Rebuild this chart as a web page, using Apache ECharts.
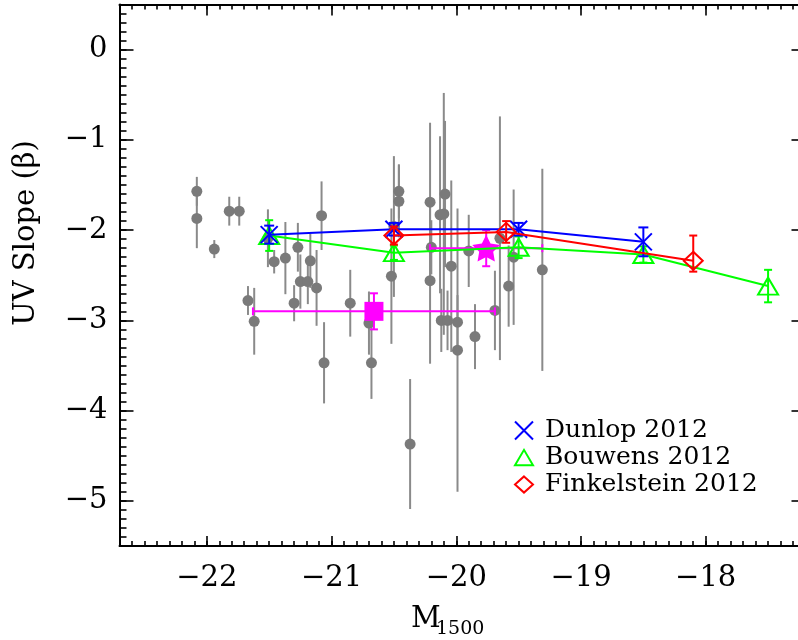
<!DOCTYPE html>
<html><head><meta charset="utf-8">
<script src="https://cdn.jsdelivr.net/npm/echarts@6/dist/echarts.min.js"></script>
<style>html,body{margin:0;padding:0;background:#fff;overflow:hidden}#c{width:810px;height:640px}</style>
</head><body><div id="c"></div>
<script>
// ---- tick labels ----
const xTicks = [-22, -21, -20, -19, -18];
const yTicks = [-5, -4, -3, -2, -1, 0];

// ---- individual galaxies (grey) ----
const greyM = [-22.08,-22.08,-21.94,-21.82,-21.74,-21.51,-21.46,-21.37,-21.27,-21.25,-21.19,-21.17,-21.12,-21.08,-21.67,-21.62,-21.30,-21.06,-20.85,-20.70,-20.68,-20.52,-20.50,-20.46,-20.46,-20.21,-20.21,-20.20,-20.13,-20.10,-20.09,-20.04,-20.12,-20.07,-19.99,-19.99,-19.90,-19.85,-20.37,-19.69,-19.58,-19.65,-19.54,-19.31];
const greyB = [-1.57,-1.87,-2.21,-1.79,-1.79,-2.09,-2.35,-2.31,-2.19,-2.57,-2.57,-2.34,-2.64,-1.84,-2.78,-3.01,-2.81,-3.47,-2.81,-3.03,-3.47,-2.51,-1.96,-1.57,-1.68,-1.69,-2.56,-2.19,-1.83,-1.82,-1.60,-2.40,-3.00,-3.00,-3.02,-3.33,-2.23,-3.18,-4.37,-2.89,-2.62,-2.09,-2.30,-2.44];
const greyErr = [0.16,0.33,0.10,0.16,0.16,0.32,0.13,0.40,0.27,0.30,0.25,0.30,0.42,0.38,0.16,0.37,0.20,0.45,0.37,0.35,0.40,0.75,0.78,0.30,0.40,0.88,0.92,0.30,0.87,1.34,0.81,0.95,0.35,0.33,0.30,1.57,0.40,0.36,0.72,0.44,0.45,1.35,0.75,1.12];

// ---- literature ----
const dunlopM = [-21.5, -20.5, -19.5, -18.5];
const dunlopB = [-2.05, -1.99, -1.99, -2.13];
const dunlopErr = [0.10, 0.07, 0.07, 0.16];

const bouwensM = [-21.5, -20.5, -19.5, -18.5, -17.5];
const bouwensB = [-2.06, -2.25, -2.19, -2.27, -2.62];
const bouwensErr = [0.17, 0.08, 0.12, 0.09, 0.18];

const finkM = [-20.5, -19.6, -18.1];
const finkB = [-2.06, -2.02, -2.34];
const finkErrLo = [0.10, 0.12, 0.12];
const finkErrHi = [0.10, 0.12, 0.28];

// ---- stacked points (magenta) ----
const squareM = [-20.66], squareB = [-2.90], squareMErr = [0.97], squareBErr = [0.20];
const starM = [-19.76], starB = [-2.20], starMErr = [0.45], starBErr = [0.20];

const FONT = 'DejaVu Serif';
const fmt = v => (v < 0 ? '\u2212' + Math.abs(v) : String(v));
const xMinor = []; for (let k = -227; k <= -172; k++) xMinor.push(k / 10);
const yMinor = []; for (let k = -55; k <= 5; k++) yMinor.push(k / 10);

function xAx(pos, major, len, labels) {
  return {
    type: 'value', position: pos, min: -22.7, max: -17.2,
    axisLine: { show: major, onZero: false, lineStyle: { color: '#000', width: 2 } },
    axisTick: { show: true, inside: true, length: len, customValues: major ? xTicks : xMinor, lineStyle: { color: '#000', width: 1.6 } },
    axisLabel: labels ? { show: true, customValues: xTicks, formatter: fmt, margin: 18, fontSize: 29, fontFamily: FONT, color: '#000' } : { show: false },
    splitLine: { show: false }
  };
}
function yAx(pos, major, len, labels, line) {
  return {
    type: 'value', position: pos, min: -5.5, max: 0.5,
    axisLine: { show: line, onZero: false, lineStyle: { color: '#000', width: 2 } },
    axisTick: { show: true, inside: true, length: len, customValues: major ? yTicks : yMinor, lineStyle: { color: '#000', width: 1.6 } },
    axisLabel: labels ? { show: true, customValues: yTicks, formatter: fmt, margin: 12, fontSize: 29, fontFamily: FONT, color: '#000' } : { show: false },
    splitLine: { show: false }
  };
}

function errSeries(name, data, color, cap, lw, z) {
  return {
    name: name, type: 'custom', z: z, silent: true,
    encode: { x: 0, y: 1 },
    renderItem: function (params, api) {
      const x = api.value(0), y = api.value(1);
      const lo = api.value(2), hi = api.value(3), xlo = api.value(4), xhi = api.value(5);
      const st = { stroke: color, lineWidth: lw };
      const ch = [];
      if (lo > 0 || hi > 0) {
        const a = api.coord([x, y + hi]), b = api.coord([x, y - lo]);
        ch.push({ type: 'line', shape: { x1: a[0], y1: a[1], x2: b[0], y2: b[1] }, style: st });
        if (cap > 0) {
          ch.push({ type: 'line', shape: { x1: a[0] - cap, y1: a[1], x2: a[0] + cap, y2: a[1] }, style: st });
          ch.push({ type: 'line', shape: { x1: b[0] - cap, y1: b[1], x2: b[0] + cap, y2: b[1] }, style: st });
        }
      }
      if (xlo > 0 || xhi > 0) {
        const a = api.coord([x - xlo, y]), b = api.coord([x + xhi, y]);
        ch.push({ type: 'line', shape: { x1: a[0], y1: a[1], x2: b[0], y2: b[1] }, style: st });
        if (cap > 0) {
          ch.push({ type: 'line', shape: { x1: a[0], y1: a[1] - cap, x2: a[0], y2: a[1] + cap }, style: st });
          ch.push({ type: 'line', shape: { x1: b[0], y1: b[1] - cap, x2: b[0], y2: b[1] + cap }, style: st });
        }
      }
      return { type: 'group', children: ch };
    },
    data: data
  };
}

const zip = (m, b) => m.map((v, i) => [v, b[i]]);

const XPATH = 'path://M0,0L10,10M10,0L0,10';
const TRI = 'path://M0,17L10,0L20,17Z';
const DIA = 'path://M10,0L20,9L10,18L0,9Z';
const STAR = 'path://M50,0L64.69,29.77L97.55,34.55L73.78,57.73L79.39,90.45L50,75L20.61,90.45L26.22,57.73L2.45,34.55L35.31,29.77Z';

const chart = echarts.init(document.getElementById('c'), null, { renderer: 'canvas' });
chart.setOption({
  animation: false,
  backgroundColor: '#fff',
  textStyle: { fontFamily: FONT },
  grid: { left: 119.5, top: 4.5, width: 686, height: 541.5, containLabel: false, outerBoundsMode: 'none' },
  xAxis: [xAx('bottom', true, 10, true), xAx('bottom', false, 5, false), xAx('top', true, 11, false), xAx('top', false, 5, false)],
  yAxis: [yAx('left', true, 14, true, true), yAx('left', false, 7, false, false), yAx('right', true, 14, false, false)],
  legend: {
    orient: 'vertical', left: 509, top: 412, itemGap: 0, itemWidth: 18, itemHeight: 18,
    selectedMode: false,
    textStyle: { fontFamily: FONT, fontSize: 25, color: '#000', lineHeight: 27, padding: [0, 0, 0, 7] },
    data: [
      { name: 'Dunlop 2012', icon: XPATH, itemStyle: { color: 'rgba(0,0,0,0)', borderColor: '#0000ff', borderWidth: 2 } },
      { name: 'Bouwens 2012', icon: TRI, itemStyle: { color: 'rgba(0,0,0,0)', borderColor: '#00ff00', borderWidth: 2 } },
      { name: 'Finkelstein 2012', icon: DIA, itemStyle: { color: 'rgba(0,0,0,0)', borderColor: '#ff0000', borderWidth: 2 } }
    ]
  },
  series: [
    errSeries('grey err', greyM.map((m, i) => [m, greyB[i], greyErr[i], greyErr[i], 0, 0]), '#8a8a8a', 0, 2, 1),
    { name: 'galaxies', type: 'scatter', z: 2, symbol: 'circle', symbolSize: 11, itemStyle: { color: '#7a7a7a', opacity: 1 }, data: zip(greyM, greyB) },
    errSeries('square err', squareM.map((m, i) => [m, squareB[i], squareBErr[i], squareBErr[i], squareMErr[i], squareMErr[i]]), '#ff00ff', 4, 2, 3),
    errSeries('star err', starM.map((m, i) => [m, starB[i], starBErr[i], starBErr[i], starMErr[i], starMErr[i]]), '#ff00ff', 4, 2, 3),
    { name: 'stack square', type: 'scatter', z: 4, symbol: 'rect', symbolSize: 19, itemStyle: { color: '#ff00ff', opacity: 1 }, data: zip(squareM, squareB) },
    { name: 'stack star', type: 'scatter', z: 4, symbol: STAR, symbolSize: 28, symbolKeepAspect: true, itemStyle: { color: '#ff00ff', opacity: 1 }, data: zip(starM, starB) },
    errSeries('bouwens err', bouwensM.map((m, i) => [m, bouwensB[i], bouwensErr[i], bouwensErr[i], 0, 0]), '#00ff00', 4, 2, 5),
    { name: 'Bouwens 2012', type: 'line', z: 5, data: zip(bouwensM, bouwensB), symbol: 'triangle', symbolSize: [20, 17],
      itemStyle: { color: 'rgba(0,0,0,0)', borderColor: '#00ff00', borderWidth: 2 }, lineStyle: { color: '#00ff00', width: 2 } },
    errSeries('dunlop err', dunlopM.map((m, i) => [m, dunlopB[i], dunlopErr[i], dunlopErr[i], 0, 0]), '#0000ff', 5, 2, 6),
    { name: 'Dunlop 2012', type: 'line', z: 6, data: zip(dunlopM, dunlopB), symbol: XPATH, symbolSize: 17,
      itemStyle: { color: 'rgba(0,0,0,0)', borderColor: '#0000ff', borderWidth: 2 }, lineStyle: { color: '#0000ff', width: 2 } },
    errSeries('fink err', finkM.map((m, i) => [m, finkB[i], finkErrLo[i], finkErrHi[i], 0, 0]), '#ff0000', 4, 2, 7),
    { name: 'Finkelstein 2012', type: 'line', z: 7, data: zip(finkM, finkB), symbol: DIA, symbolSize: [19, 18],
      itemStyle: { color: 'rgba(0,0,0,0)', borderColor: '#ff0000', borderWidth: 2 }, lineStyle: { color: '#ff0000', width: 2 } }
  ],
  graphic: [
    { type: 'text', x: 26, y: 233, rotation: Math.PI / 2,
      style: { text: 'UV Slope (\u03B2)', font: '29px "DejaVu Serif"', fill: '#000', align: 'center', verticalAlign: 'middle' } },
    { type: 'text', x: 411, y: 619,
      style: { text: 'M', font: '29px "DejaVu Serif"', fill: '#000', align: 'left', verticalAlign: 'middle' } },
    { type: 'text', x: 436, y: 629,
      style: { text: '1500', font: '19px "DejaVu Serif"', fill: '#000', align: 'left', verticalAlign: 'middle' } }
  ]
});
</script>
</body></html>
